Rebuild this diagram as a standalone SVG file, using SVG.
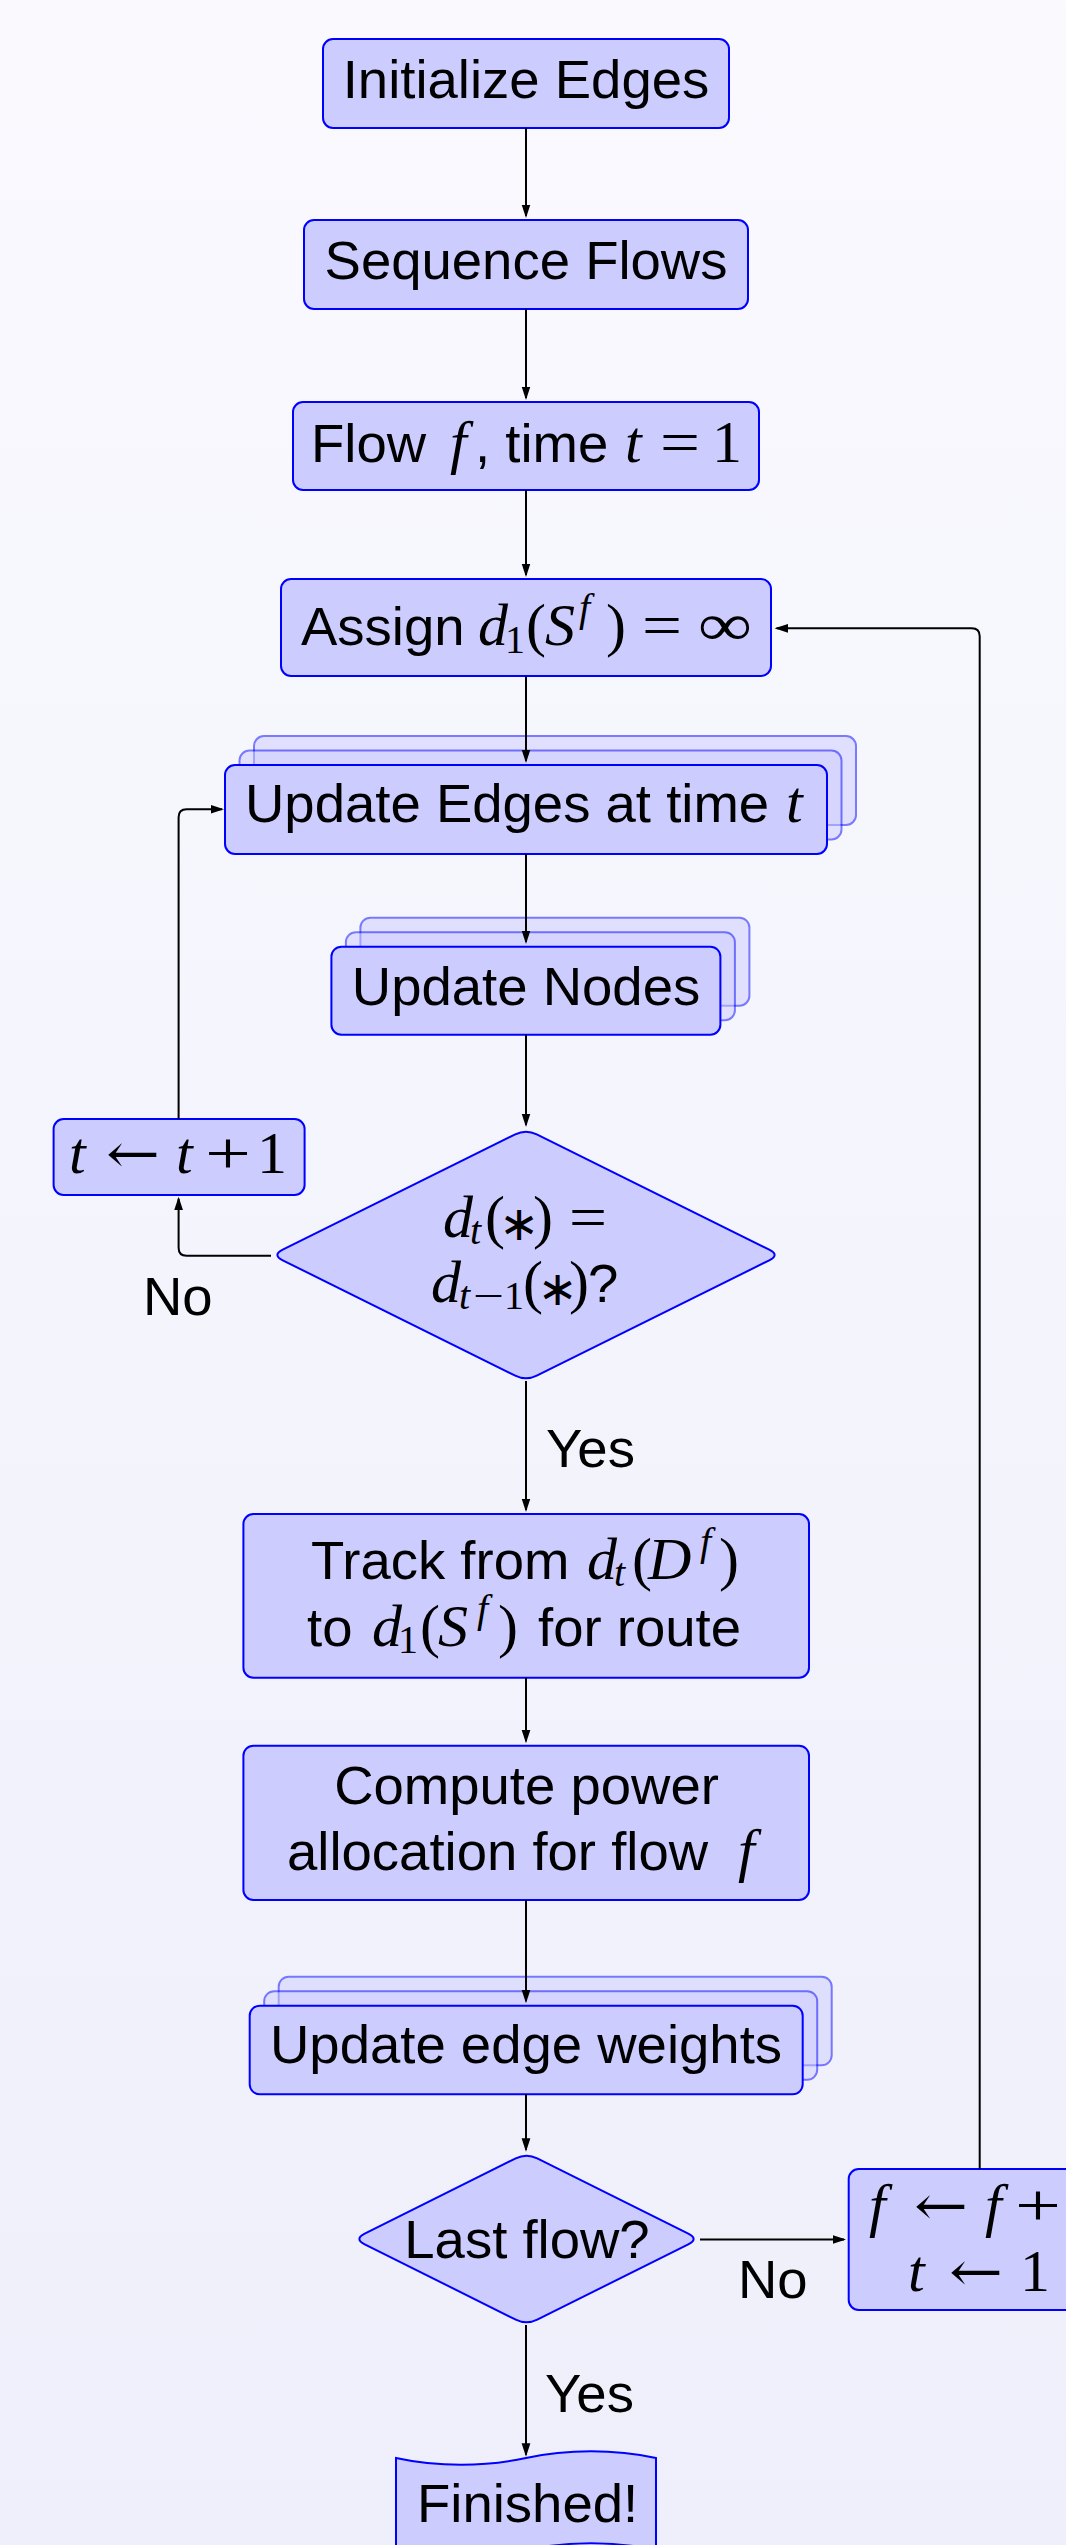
<svg xmlns="http://www.w3.org/2000/svg" width="1066" height="2545" viewBox="0 0 1066 2545">
<defs>
  <linearGradient id="bg" x1="0" y1="0" x2="0" y2="1">
    <stop offset="0" stop-color="#f9f9fe"/>
    <stop offset="1" stop-color="#efeffb"/>
  </linearGradient>
  <marker id="ah" markerUnits="userSpaceOnUse" markerWidth="14" markerHeight="10" refX="11.5" refY="5" orient="auto">
    <path d="M0,0.6 L13.5,5 L0,9.4 Z" fill="#000"/>
  </marker>
  <style>
    .box{fill:#ccccff;stroke:#0000ff;stroke-width:2}
    .ghost{opacity:0.5}
    .edge{fill:none;stroke:#000;stroke-width:2;marker-end:url(#ah)}
    .s{font-family:"Liberation Sans",Arial,Helvetica,sans-serif;font-size:54.5px;fill:#000}
    .c{text-anchor:middle}
    .mi{font-family:"Liberation Serif","Times New Roman",serif;font-style:italic;font-size:60px;fill:#000}
    .mr{font-family:"Liberation Serif","Times New Roman",serif;font-style:normal;font-size:60px;fill:#000}
    .si{font-family:"Liberation Serif","Times New Roman",serif;font-style:italic;font-size:40px;fill:#000}
    .sr{font-family:"Liberation Serif","Times New Roman",serif;font-style:normal;font-size:40px;fill:#000}
    .arr{font-family:"DejaVu Serif","DejaVu Sans",serif;font-size:56px;fill:#000}
    .ast{font-family:"DejaVu Sans",sans-serif;font-style:normal;font-size:48px;text-anchor:middle;fill:#000}
  </style>
</defs>

<rect width="1066" height="2545" fill="url(#bg)"/>

<g id="init-edges">
  <rect class="box" x="323" y="39" width="406" height="89" rx="10"/>
  <text class="s c" x="526" y="98">Initialize Edges</text>
</g>

<g id="sequence-flows">
  <rect class="box" x="304" y="220" width="444" height="89" rx="10"/>
  <text class="s c" x="526" y="279">Sequence Flows</text>
</g>

<g id="flow-time">
  <rect class="box" x="293" y="402" width="466" height="88" rx="10"/>
  <text class="s" x="311" y="461.7">Flow</text>
  <text class="mi" x="450" y="461.7">f</text>
  <text class="s" x="475" y="461.7">, time</text>
  <text class="mi" x="625" y="461.7">t</text>
  <text class="mr" x="660" y="461.7" textLength="40" lengthAdjust="spacingAndGlyphs">=</text>
  <text class="mr" x="712" y="461.7">1</text>
</g>

<g id="assign">
  <rect class="box" x="281" y="579" width="490" height="97" rx="10"/>
  <text class="s" x="301" y="645">Assign</text>
  <text class="mi" y="645"><tspan x="478">d</tspan><tspan class="sr" x="505" y="653">1</tspan><tspan class="mr" x="526" y="645">(</tspan><tspan x="545">S</tspan><tspan class="si" x="579" y="621">f</tspan><tspan class="mr" x="606" y="645">)</tspan></text>
  <text class="mr" x="642" y="645" textLength="40" lengthAdjust="spacingAndGlyphs">=</text>
  <text class="mr" x="698" y="645" textLength="54" lengthAdjust="spacingAndGlyphs">∞</text>
</g>

<g id="update-edges">
  <rect class="box ghost" x="254" y="736" width="602" height="89" rx="10"/>
  <rect class="box ghost" x="239.5" y="750.5" width="602" height="89" rx="10"/>
  <rect class="box" x="225" y="765" width="602" height="89" rx="10"/>
  <text class="s" x="245" y="821.7">Update Edges at time</text>
  <text class="mi" x="786" y="821.7">t</text>
</g>

<g id="update-nodes">
  <rect class="box ghost" x="360.4" y="917.7" width="389" height="88" rx="10"/>
  <rect class="box ghost" x="345.9" y="932.2" width="389" height="88" rx="10"/>
  <rect class="box" x="331.4" y="946.7" width="389" height="88" rx="10"/>
  <text class="s c" x="526" y="1005">Update Nodes</text>
</g>

<g id="converged">
  <path class="box" d="M515.25,1134.33 Q526,1129 536.75,1134.33 L769.25,1249.67 Q780,1255 769.25,1260.33 L536.75,1375.67 Q526,1381 515.25,1375.67 L282.75,1260.33 Q272,1255 282.75,1249.67 Z"/>
  <text class="mi" y="1236.7"><tspan x="443">d</tspan><tspan class="si" x="470" y="1244">t</tspan><tspan class="mr" x="485" y="1236.7">(</tspan><tspan class="ast" x="519" y="1240">∗</tspan><tspan class="mr" x="533" y="1236.7">)</tspan></text>
  <text class="mr" x="569" y="1236.7" textLength="38" lengthAdjust="spacingAndGlyphs">=</text>
  <text class="mi" y="1301.7"><tspan x="431">d</tspan><tspan class="si" x="459" y="1309">t</tspan></text>
  <text class="sr" x="473" y="1309" textLength="31" lengthAdjust="spacingAndGlyphs">−</text>
  <text class="sr" y="1309"><tspan x="504">1</tspan><tspan class="mr" x="523" y="1301.7">(</tspan><tspan class="ast" x="557.5" y="1305">∗</tspan><tspan class="mr" x="569" y="1301.7">)</tspan><tspan class="s" x="588" y="1301.7">?</tspan></text>
</g>

<g id="increment-t">
  <rect class="box" x="53.6" y="1119" width="251" height="76" rx="10"/>
  <text class="mi" x="69" y="1173.3">t</text>
  <text class="arr" x="106" y="1173.3" textLength="54" lengthAdjust="spacingAndGlyphs">←</text>
  <text class="mi" x="176" y="1173.3">t</text>
  <text class="mr" x="205" y="1173.3" textLength="46" lengthAdjust="spacingAndGlyphs">+</text>
  <text class="mr" x="257" y="1173.3">1</text>
</g>

<g id="track-route">
  <rect class="box" x="243.4" y="1514" width="565.6" height="163.7" rx="10"/>
  <text class="s" x="311" y="1579">Track from</text>
  <text class="mi" y="1579"><tspan x="587">d</tspan><tspan class="si" x="614" y="1586">t</tspan><tspan class="mr" x="632" y="1579">(</tspan><tspan x="648">D</tspan><tspan class="si" x="700" y="1555">f</tspan><tspan class="mr" x="719" y="1579">)</tspan></text>
  <text class="s" x="307" y="1645.7">to</text>
  <text class="mi" y="1645.7"><tspan x="372">d</tspan><tspan class="sr" x="398" y="1653">1</tspan><tspan class="mr" x="420" y="1645.7">(</tspan><tspan x="438">S</tspan><tspan class="si" x="477" y="1622">f</tspan><tspan class="mr" x="498" y="1645.7">)</tspan></text>
  <text class="s" x="538" y="1645.7">for route</text>
</g>

<g id="power-allocation">
  <rect class="box" x="243.4" y="1745.7" width="565.6" height="154.3" rx="10"/>
  <text class="s c" x="526.5" y="1804.3">Compute power</text>
  <text class="s" x="287" y="1870">allocation for flow</text>
  <text class="mi" x="738" y="1870">f</text>
</g>

<g id="update-weights">
  <rect class="box ghost" x="278.7" y="1976.7" width="553" height="88.6" rx="10"/>
  <rect class="box ghost" x="264.2" y="1991.2" width="553" height="88.6" rx="10"/>
  <rect class="box" x="249.7" y="2005.7" width="553" height="88.6" rx="10"/>
  <text class="s c" x="526" y="2063.3">Update edge weights</text>
</g>

<g id="last-flow">
  <path class="box" d="M515.76,2158.35 Q526.5,2153 537.24,2158.35 L688.26,2233.65 Q699,2239 688.26,2244.35 L537.24,2319.65 Q526.5,2325 515.76,2319.65 L364.74,2244.35 Q354,2239 364.74,2233.65 Z"/>
  <text class="s c" x="527" y="2258.3">Last flow?</text>
</g>

<g id="next-flow">
  <rect class="box" x="848.7" y="2169" width="262" height="141" rx="10"/>
  <text class="mi" x="869" y="2225">f</text>
  <text class="arr" x="914" y="2225" textLength="54" lengthAdjust="spacingAndGlyphs">←</text>
  <text class="mi" x="985" y="2225">f</text>
  <text class="mr" x="1015" y="2225" textLength="46" lengthAdjust="spacingAndGlyphs">+</text>
  <text class="mi" x="908" y="2291">t</text>
  <text class="arr" x="949" y="2291" textLength="54" lengthAdjust="spacingAndGlyphs">←</text>
  <text class="mr" x="1020" y="2291">1</text>
</g>

<g id="finished">
  <path class="box" d="M396,2458 C437,2467 485,2467 526,2458 C567,2449 615,2449 656,2458 L656,2550 C615,2541 567,2541 526,2550 C485,2559 437,2559 396,2550 Z"/>
  <text class="s c" x="527.6" y="2521.7">Finished!</text>
</g>

<g id="connectors">
  <path class="edge" d="M526,128 V216"/>
  <path class="edge" d="M526,309 V398"/>
  <path class="edge" d="M526,490 V575"/>
  <path class="edge" d="M526,676.7 V761"/>
  <path class="edge" d="M526,854 V942"/>
  <path class="edge" d="M526,1034.7 V1125"/>
  <path class="edge" d="M526,1381 V1510"/>
  <path class="edge" d="M526,1677.7 V1741.3"/>
  <path class="edge" d="M526,1900 V2001.3"/>
  <path class="edge" d="M526,2094.3 V2149.7"/>
  <path class="edge" d="M526,2325 V2454.7"/>
  <path class="edge" d="M700,2239.5 H844"/>
  <path class="edge" d="M979.7,2169 V636.3 Q979.7,628.3 971.7,628.3 H776.6"/>
  <path class="edge" d="M271,1255.7 H186.6 Q178.6,1255.7 178.6,1247.7 V1198.7"/>
  <path class="edge" d="M178.6,1119 V817.3 Q178.6,809.3 186.6,809.3 H222"/>
  <text class="s" x="546" y="1467.3">Yes</text>
  <text class="s" x="143" y="1315">No</text>
  <text class="s" x="545" y="2411.7">Yes</text>
  <text class="s" x="738" y="2298.3">No</text>
</g>
</svg>
